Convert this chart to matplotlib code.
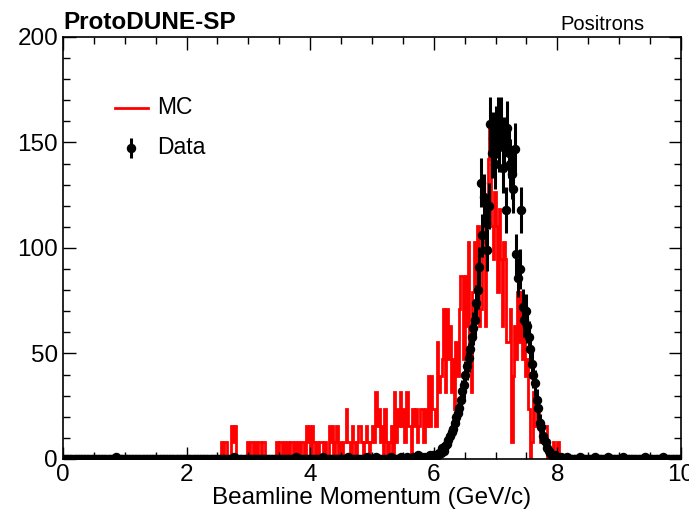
import numpy as np
import matplotlib
matplotlib.use("Agg")
import matplotlib.pyplot as plt
from matplotlib.ticker import MultipleLocator

plt.rcParams['font.family'] = ['Liberation Sans', 'DejaVu Sans']

# binning: 400 bins from 0 to 10 GeV/c
edges = np.linspace(0, 10, 401)
centers = 0.5 * (edges[:-1] + edges[1:])

# MC entries per bin (unweighted), scaled by mc_weight
mc_weight = 7.9
mc_counts = [
    # 0.0 - 2.5
    0, 0, 0, 0, 0, 0, 0, 0, 0, 0, 0, 0, 0, 0, 0, 0, 0, 0, 0, 0,
    0, 0, 0, 0, 0, 0, 0, 0, 0, 0, 0, 0, 0, 0, 0, 0, 0, 0, 0, 0,
    0, 0, 0, 0, 0, 0, 0, 0, 0, 0, 0, 0, 0, 0, 0, 0, 0, 0, 0, 0,
    0, 0, 0, 0, 0, 0, 0, 0, 0, 0, 0, 0, 0, 0, 0, 0, 0, 0, 0, 0,
    0, 0, 0, 0, 0, 0, 0, 0, 0, 0, 0, 0, 0, 0, 0, 0, 0, 0, 0, 0,
    # 2.5 - 5.0
    0, 0, 1, 0, 1, 1, 0, 0, 0, 2, 1, 2, 0, 0, 0, 0, 0, 0, 0, 1,
    0, 1, 1, 0, 1, 0, 1, 1, 0, 1, 1, 0, 0, 0, 0, 0, 0, 0, 1, 0,
    1, 1, 0, 1, 0, 1, 0, 1, 1, 0, 1, 0, 1, 0, 1, 1, 0, 2, 1, 2,
    0, 2, 1, 0, 1, 0, 1, 1, 0, 1, 0, 0, 2, 1, 2, 0, 1, 2, 0, 1,
    0, 1, 1, 3, 1, 1, 0, 2, 1, 0, 1, 2, 2, 1, 0, 1, 2, 1, 0, 1,
    # 5.0 - 7.5
    2, 1, 4, 2, 3, 1, 2, 0, 3, 1, 0, 1, 2, 0, 4, 1, 3, 2, 4, 2,
    3, 1, 4, 2, 2, 0, 3, 2, 3, 1, 2, 3, 3, 1, 3, 2, 5, 2, 5, 3,
    3, 2, 7, 4, 5, 6, 9, 4, 9, 6, 8, 4, 6, 3, 7, 5, 9, 11, 11, 6,
    11, 8, 13, 6, 4, 10, 13, 9, 14, 8, 9, 14, 13, 8, 14, 18, 20, 14, 12, 16,
    14, 10, 15, 12, 8, 13, 12, 7, 7, 9, 1, 5, 8, 6, 10, 7, 10, 6, 8, 5,
    # 7.5 - 10.0
    6, 3, 0, 1, 4, 2, 2, 3, 2, 1, 1, 2, 2, 0, 0, 0, 0, 1, 0, 0,
    1, 0, 0, 0, 0, 0, 0, 0, 0, 0, 0, 0, 0, 0, 0, 0, 0, 0, 0, 0,
    0, 0, 0, 0, 0, 0, 0, 0, 0, 0, 0, 0, 0, 0, 0, 0, 0, 0, 0, 0,
    0, 0, 0, 0, 0, 0, 0, 0, 0, 0, 0, 0, 0, 0, 0, 0, 0, 0, 0, 0,
    0, 0, 0, 0, 0, 0, 0, 0, 0, 0, 0, 0, 0, 0, 0, 0, 0, 0, 0, 0,
]

data_counts = [
    # 0.0 - 2.5
    0, 0, 0, 0, 0, 0, 0, 0, 0, 0, 0, 0, 0, 0, 0, 0, 0, 0, 0, 0,
    0, 0, 0, 0, 0, 0, 0, 0, 0, 0, 0, 0, 0, 0, 1, 0, 0, 0, 0, 0,
    0, 0, 0, 0, 0, 0, 0, 0, 0, 0, 0, 0, 0, 0, 0, 0, 0, 0, 0, 0,
    0, 0, 0, 0, 0, 0, 0, 0, 0, 0, 0, 0, 0, 0, 0, 0, 0, 0, 0, 0,
    0, 0, 0, 0, 0, 0, 0, 0, 0, 0, 0, 0, 0, 0, 0, 0, 0, 0, 0, 0,
    # 2.5 - 5.0
    0, 0, 0, 0, 0, 0, 0, 0, 0, 0, 1, 0, 0, 0, 0, 0, 0, 0, 0, 0,
    0, 0, 0, 0, 0, 0, 0, 0, 0, 0, 0, 0, 0, 0, 0, 0, 0, 0, 0, 0,
    0, 0, 0, 0, 0, 0, 0, 0, 0, 0, 1, 0, 0, 0, 0, 0, 0, 0, 0, 0,
    0, 0, 0, 0, 0, 0, 0, 0, 1, 0, 0, 0, 0, 0, 0, 0, 0, 0, 0, 0,
    0, 0, 0, 0, 1, 0, 0, 0, 0, 0, 0, 0, 0, 0, 0, 0, 1, 0, 0, 0,
    # 5.0 - 7.5
    0, 0, 1, 0, 0, 0, 0, 0, 0, 0, 0, 0, 1, 0, 0, 0, 0, 0, 1, 0,
    0, 0, 1, 0, 0, 0, 1, 0, 0, 2, 0, 0, 1, 0, 1, 0, 1, 2, 1, 2,
    1, 2, 2, 3, 3, 5, 4, 6, 7, 9, 11, 13, 14, 17, 20, 22, 24, 28, 32, 35,
    40, 44, 48, 52, 58, 62, 66, 74, 80, 91, 131, 106, 124, 112, 99, 120, 159, 145, 152, 140,
    155, 159, 148, 159, 138, 150, 118, 157, 145, 140, 135, 128, 147, 97, 86, 90, 118, 72, 66, 70,
    # 7.5 - 10.0
    63, 58, 52, 45, 40, 36, 28, 24, 17, 15, 11, 9, 8, 5, 4, 3, 2, 1, 2, 1,
    0, 0, 1, 0, 0, 0, 1, 0, 0, 0, 0, 0, 0, 0, 1, 0, 0, 0, 0, 0,
    0, 0, 0, 0, 1, 0, 0, 0, 0, 0, 0, 0, 1, 0, 0, 0, 0, 0, 0, 0,
    0, 0, 1, 0, 0, 0, 0, 0, 0, 0, 0, 0, 0, 0, 0, 0, 1, 0, 0, 0,
    0, 0, 0, 0, 0, 0, 0, 0, 1, 0, 0, 0, 0, 0, 0, 0, 0, 0, 0, 0,
]

mc = np.array(mc_counts) * mc_weight
data = np.array(data_counts, dtype=float)

fig = plt.figure(figsize=(6.89, 5.11), dpi=100)
ax = fig.add_axes([0.0914, 0.1018, 0.897, 0.8258])

ax.stairs(mc, edges, color='red', lw=2)
ax.errorbar(centers, data, yerr=np.sqrt(data), xerr=0.0125, fmt='o', color='black',
            ms=5.8, elinewidth=2.2, capsize=0, zorder=3)

ax.set_xlim(0, 10)
ax.set_ylim(0, 200)
ax.xaxis.set_major_locator(MultipleLocator(2))
ax.xaxis.set_minor_locator(MultipleLocator(0.5))
ax.yaxis.set_major_locator(MultipleLocator(50))
ax.yaxis.set_minor_locator(MultipleLocator(10))
ax.tick_params(which='both', direction='in', top=True, right=True, labelsize=17.5, width=1)
ax.tick_params(which='major', length=9)
ax.tick_params(which='minor', length=5)
for s in ax.spines.values():
    s.set_linewidth(1.2)

ax.set_xlabel('Beamline Momentum (GeV/c)', fontsize=17.5, labelpad=1)

# legend drawn by hand, ROOT-like
tr = ax.transAxes
ax.plot([0.084, 0.1375], [0.832, 0.832], color='red', lw=2, transform=tr, clip_on=False)
ax.text(0.152, 0.832, 'MC', fontsize=16.5, va='center', ha='left', transform=tr)
ax.errorbar([0.110], [0.737], yerr=[0.024], fmt='o', color='black', ms=5.8,
            elinewidth=2.2, capsize=0, transform=tr, clip_on=False)
ax.text(0.152, 0.737, 'Data', fontsize=16.5, va='center', ha='left', transform=tr)

fig.text(0.0914, 0.933, 'ProtoDUNE-SP', fontsize=17.5, fontweight='bold', ha='left', va='bottom')
fig.text(0.935, 0.933, 'Positrons', fontsize=14.5, ha='right', va='bottom')

fig.savefig('out.png', dpi=100)
